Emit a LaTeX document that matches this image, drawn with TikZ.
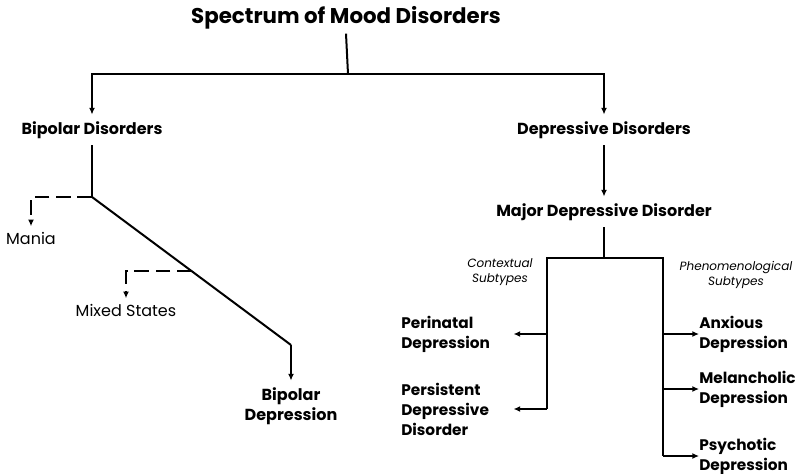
\documentclass[tikz,border=0pt]{standalone}
\usepackage{fontspec}
\setmainfont{Poppins}
\usepackage{tikz}
\usetikzlibrary{arrows.meta,positioning,calc}
\tikzset{
  mtitle/.style={font=\bfseries\fontsize{16}{19}\selectfont, inner sep=3pt},
  mhead/.style={font=\bfseries\fontsize{12}{15}\selectfont, align=center, inner sep=5pt},
  mleaf/.style={font=\bfseries\fontsize{11.5}{15}\selectfont, align=left, text width=84pt, inner sep=0pt},
  mstate/.style={font=\fontsize{12}{15}\selectfont, inner sep=4pt},
  mnote/.style={font=\itshape\fontsize{9}{11}\selectfont, align=center, inner sep=1pt},
  mline/.style={line width=1.5pt},
  marrow/.style={-{Latex[length=5pt,width=4.5pt]}, line width=1.5pt},
  mdash/.style={-{Latex[length=5pt,width=4.5pt]}, line width=1.5pt, dash pattern=on 11pt off 5pt}
}

\begin{document}
\begin{tikzpicture}[x=0.75pt,y=-0.75pt]
\useasboundingbox (0,0) rectangle (799,474);

\node[mtitle] (title) at (346,18) {Spectrum of Mood Disorders};
\node[mhead] (bipolar) at (92,130) {Bipolar Disorders};
\node[mhead] (depressive) at (604,130) {Depressive Disorders};
\node[mstate] (mania) at (31,238) {Mania};
\node[mstate] (mixed) at (126,310) {Mixed States};
\node[mhead] (bipdep) at (291,406) {Bipolar\\Depression};
\node[mhead] (mdd) at (604,212) {Major Depressive Disorder};
\node[mnote] (ctx) at (500,272) {Contextual\\Subtypes};
\node[mnote] (phen) at (736,275) {Phenomenological\\Subtypes};
\node[mleaf, anchor=west] (perinatal) at (401,334) {Perinatal\\Depression};
\node[mleaf, anchor=west] (persistent) at (401,409) {Persistent\\Depressive\\Disorder};
\node[mleaf, anchor=west] (anxious) at (699,334) {Anxious\\Depression};
\node[mleaf, anchor=west] (melancholic) at (699,389) {Melancholic\\Depression};
\node[mleaf, anchor=west] (psychotic) at (699,456) {Psychotic\\Depression};

\coordinate (topfork) at (348,74);
\coordinate (bpfork) at (92,197);
\coordinate (bpbend) at (291,345);
\coordinate (mixfork) at ($(bpfork)!0.5!(bpbend)$);
\coordinate (mddfork) at (604,258);
\coordinate (ctxbar) at (547,258);
\coordinate (phenbar) at (663,258);

\draw[mline] (title.south) -- (topfork);
\draw[marrow] (topfork) -| (bipolar.north);
\draw[marrow] (topfork) -| (depressive.north);
\draw[mline] (bipolar.south) -- (bpfork);
\draw[mdash] (bpfork) -| (mania.north);
\draw[mline] (bpfork) -- (bpbend);
\draw[mdash] (mixfork) -| (mixed.north);
\draw[marrow] (bpbend) -- (bipdep.north);

\draw[marrow] (depressive.south) -- (mdd.north);
\draw[mline] (mdd.south) -- (mddfork);
\draw[mline] (ctxbar |- persistent.east) -- (ctxbar) -- (phenbar) -- (phenbar |- psychotic.west);
\draw[marrow] (ctxbar |- perinatal.east) -- (perinatal.east);
\draw[marrow] (ctxbar |- persistent.east) -- (persistent.east);
\draw[marrow] (phenbar |- anxious.west) -- (anxious.west);
\draw[marrow] (phenbar |- melancholic.west) -- (melancholic.west);
\draw[marrow] (phenbar |- psychotic.west) -- (psychotic.west);
\end{tikzpicture}
\end{document}
